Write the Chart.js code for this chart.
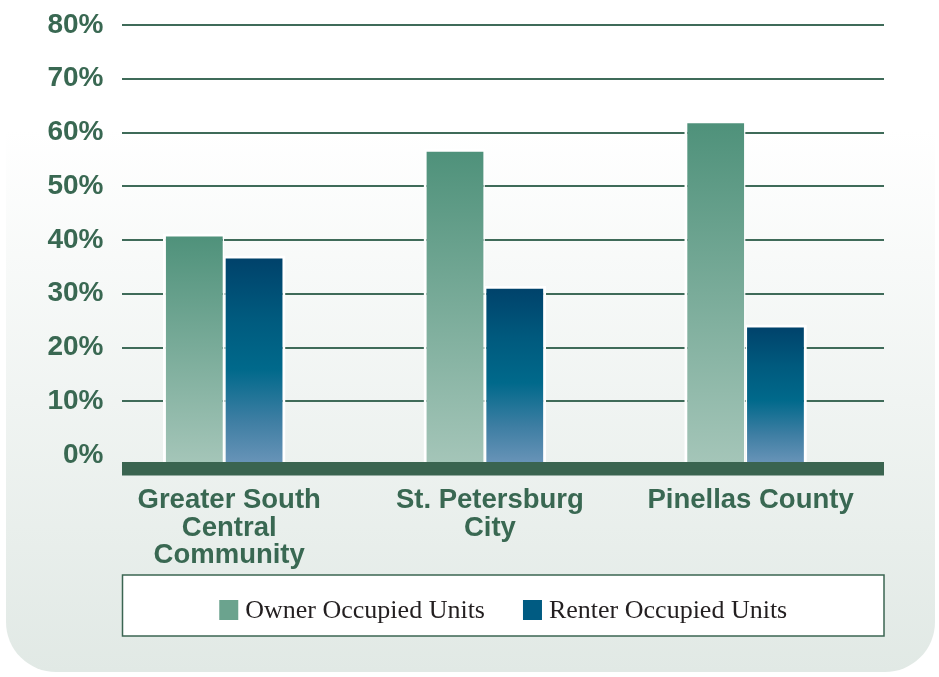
<!DOCTYPE html>
<html>
<head>
<meta charset="utf-8">
<script src="https://cdn.jsdelivr.net/npm/chart.js@4.4.0/dist/chart.umd.min.js"></script>
<style>
  html, body { margin: 0; padding: 0; background: #fff; }
  #wrap { width: 939px; height: 677px; position: relative; }
</style>
</head>
<body>
<div id="wrap"><canvas id="housingChart"></canvas></div>
<script>
const categories = [['Greater South', 'Central', 'Community'], ['St. Petersburg', 'City'], ['Pinellas County']];
const ownerValues = [41.2, 57, 62.3];
const renterValues = [37.1, 31.5, 24.3];
const yTicks = [0, 10, 20, 30, 40, 50, 60, 70, 80];
const Y_MIN = -1.3;
// bar groups sit left of the grid's centre, so the x range is uneven
const X_MIN = -0.392, X_MAX = 2.531;

const TEXT = '#396852';
const OWNER_SWATCH = '#6ba38e';
const RENTER_SWATCH = '#005b82';

function barGradient(stops) {
  return (c) => {
    const chart = c.chart;
    const area = chart.chartArea;
    if (!area || !c.parsed) return stops[0][1];
    const top = chart.scales.y.getPixelForValue(c.parsed.y);
    const g = chart.ctx.createLinearGradient(0, top, 0, area.bottom);
    stops.forEach(([o, col]) => g.addColorStop(o, col));
    return g;
  };
}

// rounded pale panel behind everything
const panelBg = {
  id: 'panelBg',
  beforeDraw(chart) {
    const { ctx, width, height } = chart;
    ctx.save();
    ctx.fillStyle = '#fff';
    ctx.fillRect(0, 0, width, height);
    const l = 6, r = 935, b = 672, rad = 50;
    const g = ctx.createLinearGradient(0, 130, 0, b);
    g.addColorStop(0, '#ffffff');
    g.addColorStop(1, '#e1e9e5');
    ctx.fillStyle = g;
    ctx.beginPath();
    ctx.moveTo(l, 0);
    ctx.lineTo(r, 0);
    ctx.lineTo(r, b - rad);
    ctx.arcTo(r, b, r - rad, b, rad);
    ctx.lineTo(l + rad, b);
    ctx.arcTo(l, b, l, b - rad, rad);
    ctx.closePath();
    ctx.fill();
    ctx.restore();
  }
};

// thick dark base under the bars
const baseBand = {
  id: 'baseBand',
  beforeDatasetsDraw(chart) {
    const { ctx, chartArea } = chart;
    ctx.save();
    ctx.fillStyle = '#3a6450';
    ctx.fillRect(chartArea.left, chartArea.bottom, chartArea.right - chartArea.left, 13.5);
    ctx.restore();
  }
};

const boxLegend = {
  id: 'boxLegend',
  afterDraw(chart) {
    const { ctx, chartArea } = chart;
    const bx = chartArea.left + 0.5, bw = chartArea.right - bx;
    const by = chartArea.bottom + 113, bh = 61;
    ctx.save();
    ctx.fillStyle = '#fff';
    ctx.fillRect(bx, by, bw, bh);
    ctx.strokeStyle = '#3b6552';
    ctx.lineWidth = 1.5;
    ctx.strokeRect(bx, by, bw, bh);

    const swatches = [OWNER_SWATCH, RENTER_SWATCH];
    ctx.font = '26px "Liberation Serif", serif';
    const labels = chart.data.datasets.map(d => d.label);
    const widths = labels.map(t => ctx.measureText(t).width);
    const sq = 19, gap = 7, itemGap = 38;
    const total = widths.reduce((a, w) => a + sq + gap + w, 0) + itemGap * (labels.length - 1);
    let x = bx + bw / 2 - total / 2;
    ctx.textBaseline = 'alphabetic';
    labels.forEach((t, i) => {
      ctx.fillStyle = swatches[i];
      ctx.fillRect(x, by + 25, sq, 20);
      ctx.fillStyle = '#231f20';
      ctx.fillText(t, x + sq + gap, by + 43);
      x += sq + gap + widths[i] + itemGap;
    });
    ctx.restore();
  }
};

const labelFont = { family: '"Liberation Sans", Arial, sans-serif', weight: 'bold' };

new Chart(document.getElementById('housingChart'), {
  type: 'bar',
  data: {
    datasets: [{
      label: 'Owner Occupied Units',
      data: ownerValues.map((v, i) => ({ x: i, y: v })),
      base: Y_MIN,
      backgroundColor: barGradient([[0, '#4e917a'], [1, '#a4c5b8']]),
      borderColor: '#fff',
      borderWidth: { top: 3, left: 3, right: 1.5, bottom: 0 },
      borderSkipped: false
    }, {
      label: 'Renter Occupied Units',
      data: renterValues.map((v, i) => ({ x: i, y: v })),
      base: Y_MIN,
      backgroundColor: barGradient([[0, '#00416a'], [0.3, '#005a7e'], [0.55, '#00698b'], [0.8, '#3e7ea3'], [1, '#6793b7']]),
      borderColor: '#fff',
      borderWidth: { top: 3, left: 1.5, right: 3, bottom: 0 },
      borderSkipped: false
    }]
  },
  options: {
    responsive: true,
    maintainAspectRatio: false,
    animation: false,
    categoryPercentage: 0.47,
    barPercentage: 1,
    layout: { padding: { top: 25, right: 55, bottom: 100, left: 0 } },
    plugins: {
      legend: { display: false },
      tooltip: { enabled: false }
    },
    scales: {
      x: {
        type: 'linear',
        offset: false,
        min: X_MIN,
        max: X_MAX,
        afterBuildTicks: s => { s.ticks = categories.map((_, i) => ({ value: i })); },
        grid: { display: false, drawTicks: false },
        border: { display: false },
        ticks: {
          color: TEXT,
          font: { ...labelFont, size: 27.5, lineHeight: 1.0 },
          padding: 25,
          labelOffset: 5,
          maxRotation: 0,
          autoSkip: false,
          callback: v => categories[v]
        },
        afterFit: s => { s.height = 115; }
      },
      y: {
        min: Y_MIN,
        max: 80,
        afterBuildTicks: s => { s.ticks = yTicks.map(v => ({ value: v })); },
        grid: {
          drawTicks: false,
          lineWidth: 2,
          color: c => (c.tick && c.tick.value === 0) ? 'rgba(0,0,0,0)' : '#3f6b59'
        },
        border: { display: false },
        ticks: {
          color: TEXT,
          // small lineHeight keeps the top label from pushing the plot down
          font: { ...labelFont, size: 28, lineHeight: 0.4 },
          padding: 18.5,
          callback: v => v + '%'
        },
        afterFit: s => { s.width = 122; }
      }
    }
  },
  plugins: [panelBg, baseBand, boxLegend]
});
</script>
</body>
</html>
